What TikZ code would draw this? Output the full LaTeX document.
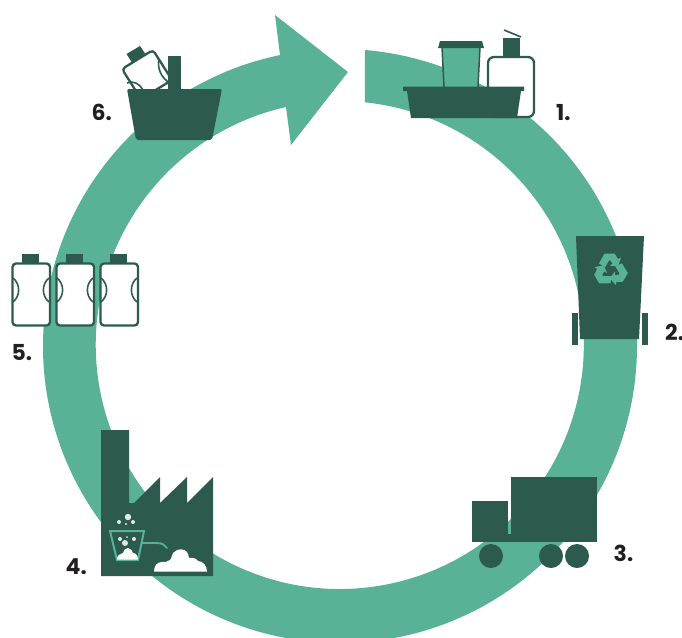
\documentclass[tikz,border=0pt]{standalone}
\usepackage{fontspec}
\setmainfont{Poppins}
\definecolor{ringgreen}{HTML}{59B197}
\definecolor{darkgreen}{HTML}{2C5A4E}
\definecolor{numink}{HTML}{231F20}
\definecolor{dotgrey}{HTML}{E4E8E6}
\tikzset{
  num/.style={anchor=base west,inner sep=0pt,font=\fontsize{22}{22}\selectfont\bfseries,text=numink},
  bottleline/.style={draw=darkgreen,line width=2.3pt,fill=white,rounded corners=3.5pt},
  bottlearc/.style={draw=darkgreen,line width=1.6pt},
  dot/.style={fill=dotgrey,draw=none},
}
\begin{document}
\begin{tikzpicture}[x=1pt,y=-1pt]
\useasboundingbox (0,0) rectangle (682,637);
\clip (0,0) rectangle (682,637);
% ring with arrow
\fill[ringgreen] (365,50) arc[start angle=-85.17,end angle=258.35,radius=297]
  -- (275,15) -- (348,72) -- (291,145) -- (286,107)
  arc[start angle=257.27,end angle=-84.1,radius=244] -- cycle;
% 1: basket with cup and bottle
\fill[darkgreen] (503,38) rectangle (520,58);
\draw[darkgreen,line width=1.6pt] (504,30) -- (521,37);
\draw[bottleline,rounded corners=6pt] (488,57) rectangle (534,117);
\fill[ringgreen] (442,47) -- (480,47) -- (478,87) -- (444,87) -- cycle;
\draw[darkgreen,line width=1.5pt] (442,47) -- (444,87) (480,47) -- (478,87);
\fill[darkgreen] (438,48) -- (440,41) -- (482,41) -- (484,48) -- cycle;
\fill[darkgreen] (403,86.5) -- (524,86.5) -- (524,91) -- (521,91) -- (517,118) -- (411,118) -- (407,91) -- (403,91) -- cycle;
\node[num] (n1) at (556,120.5) {1.};
% 2: bin
\fill[darkgreen] (576,236) -- (644,236) -- (639,339) -- (580,339) -- cycle;
\fill[darkgreen] (572,313) rectangle (578,345);
\fill[darkgreen] (642,313) rectangle (648,345);
\begin{scope}[shift={(610.5,270)}]
\foreach \a in {0,120,240}{
  \fill[ringgreen,rotate=\a] (-11.5,-6.5) -- (-6,-16.5) -- (4,-16.5) -- (7.5,-11) -- (10.5,-12.5) -- (7.5,-3.5) -- (-1,-4.5) -- (2,-6.2) -- (0,-9.5) -- (-1.5,-9.5) -- (-5.5,-2.5) -- cycle;
}
\end{scope}
\node[num] (n2) at (665,340) {2.};
% 3: truck
\fill[darkgreen] (511,477) rectangle (597,542);
\fill[darkgreen] (472,501) rectangle (508,542);
\fill[darkgreen] (507,534) rectangle (512,542);
\fill[darkgreen] (491,556) circle[radius=12];
\fill[darkgreen] (551,556) circle[radius=12];
\fill[darkgreen] (577,556) circle[radius=12];
\node[num] (n3) at (613.5,561) {3.};
% 4: factory
\fill[darkgreen] (101,576) -- (101,430) -- (129,430) -- (129,503) -- (134,503) -- (160,477) -- (160,503) -- (187,477) -- (187,503) -- (213,477) -- (213,576) -- cycle;
\draw[ringgreen,line width=2pt] (110,531) -- (144,531) -- (138,560) -- (117,560) -- cycle;
\draw[ringgreen,line width=1.8pt,line cap=round] (142,543) -- (157,543) .. controls (162,543) and (165,545) .. (167,548);
\fill[white] (117,559.5) .. controls (117,555) and (120,554) .. (123,553) .. controls (124,550) and (125,548) .. (128,548) .. controls (131,548) and (132,551) .. (133,553) .. controls (136,553) and (138,556) .. (138,559.5) -- cycle;
\fill[white] (154,571.5) .. controls (154,566) and (157,562) .. (162,562) .. controls (165,562) and (167,562) .. (170,560) .. controls (172,558) and (172,552) .. (175,551.5) .. controls (177,549) and (184,548) .. (187,552) .. controls (189,554) and (188,556) .. (189,558) .. controls (193,557) and (197,559) .. (198,561) .. controls (203,561) and (207,566) .. (207,571.5) -- cycle;
\foreach \px/\py/\r in {128/517/3.2,119/522/2,133/522/2,126/524/1.2,120/539/2,125/543/3,134/539/2,127/537/1}{
  \fill[dot] (\px,\py) circle[radius=\r];
}
\node[num] (n4) at (65.5,574) {4.};
% 5: three bottles
\foreach \bx/\cx in {12/22,56/66,100/110}{
  \fill[darkgreen] (\cx,254) rectangle ++(17,9.5);
  \draw[bottleline] (\bx+.5,263.5) rectangle ++(37.5,62);
  \draw[bottlearc] (\bx+1,278) .. controls (\bx+8.5,284) and (\bx+8.5,296) .. (\bx+1,302);
  \draw[bottlearc] (\bx+37,278) .. controls (\bx+29.5,284) and (\bx+29.5,296) .. (\bx+37,302);
}
\node[num] (n5) at (11.5,360) {5.};
% 6: basket with tilted bottle
\fill[darkgreen] (126.5,54) -- (140,46) -- (146,55) -- (132,62.5) -- cycle;
\draw[bottleline] (122,69) -- (153,50) -- (172,80) -- (141,99) -- cycle;
\draw[bottlearc] (159,59) .. controls (157,68) and (161,78) .. (170,83);
\draw[bottlearc] (127,83) .. controls (133,80) and (140,84) .. (143,90);
\fill[darkgreen] (168,56) rectangle (181,90);
\fill[darkgreen,rounded corners=2pt] (127,89) -- (222,89) -- (212,140) -- (136,140) -- cycle;
\node[num] (n6) at (91.5,120.5) {6.};
\end{tikzpicture}
\end{document}
